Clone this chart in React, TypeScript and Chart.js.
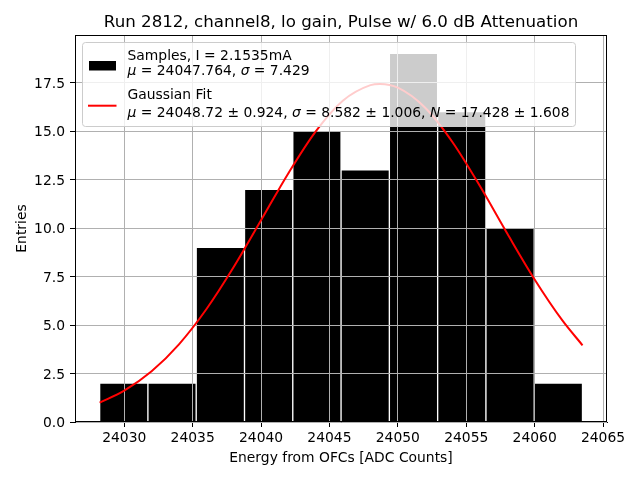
import React, { useEffect, useRef } from "react";
import { Chart, registerables } from "chart.js";

Chart.register(...registerables);

const TITLE = "Run 2812, channel8, lo gain, Pulse w/ 6.0 dB Attenuation";
const X_LABEL = "Energy from OFCs [ADC Counts]";
const Y_LABEL = "Entries";

// Histogram bins
const binEdges = [24028.2, 24031.73, 24035.26, 24038.79, 24042.32, 24045.85, 24049.38, 24052.91, 24056.44, 24059.97, 24063.5];
const counts = [2, 2, 9, 12, 15, 13, 19, 16, 10, 2];

// Gaussian fit curve samples
const fitX = [24028.2, 24030, 24032, 24034, 24036, 24038, 24040, 24042, 24044, 24046, 24048, 24048.7, 24050, 24052, 24054, 24056, 24058, 24060, 24062, 24063.5];
const fitY = [1.0, 1.615, 2.612, 4.003, 5.811, 7.988, 10.4, 12.826, 14.982, 16.574, 17.367, 17.428, 17.235, 16.2, 14.423, 12.162, 9.712, 7.347, 5.263, 3.955];

const xRange = [24026.4, 24065.29];
const yRange = [0, 19.95];
const xStep = 5;
const yStep = 2.5;

type Seg = [string, boolean];
const legendSamples: Seg[][] = [
  [["Samples, I = 2.1535mA", false]],
  [["μ", true], [" = 24047.764, ", false], ["σ", true], [" = 7.429", false]],
];
const legendFit: Seg[][] = [
  [["Gaussian Fit", false]],
  [["μ", true], [" = 24048.72 ± 0.924, ", false], ["σ", true], [" = 8.582 ± 1.006, ", false], ["N", true], [" = 17.428 ± 1.608", false]],
];

const FONT = '"DejaVu Sans"';
const FS = 13.89;

function segFont(it: boolean) {
  return `${it ? "italic " : ""}${FS}px ${FONT}`;
}

function lineWidth(ctx: CanvasRenderingContext2D, line: Seg[]) {
  let w = 0;
  for (const [t, it] of line) {
    ctx.font = segFont(it);
    w += ctx.measureText(t).width;
  }
  return w;
}

function drawLine(ctx: CanvasRenderingContext2D, line: Seg[], x: number, y: number) {
  let cx = x;
  for (const [t, it] of line) {
    ctx.font = segFont(it);
    ctx.fillText(t, cx, y);
    cx += ctx.measureText(t).width;
  }
}

const overlayPlugin = {
  id: "overlay",
  beforeDatasetDraw(chart: any, args: any) {
    if (args.meta.type === "line") {
      chart.scales.x.drawGrid(chart.chartArea);
      chart.scales.y.drawGrid(chart.chartArea);
    }
  },
  afterDatasetsDraw(chart: any) {
    const ctx: CanvasRenderingContext2D = chart.ctx;
    const a = chart.chartArea;
    ctx.save();
    ctx.strokeStyle = "#000";
    ctx.lineWidth = 1;
    ctx.strokeRect(Math.round(a.left) + 0.5, Math.round(a.top) + 0.5, Math.round(a.right - a.left) - 1, Math.round(a.bottom - a.top) - 1);
    ctx.restore();
  },
  afterDraw(chart: any) {
    const ctx: CanvasRenderingContext2D = chart.ctx;
    const a = chart.chartArea;
    ctx.save();
    ctx.fillStyle = "#000";
    // Y tick labels (positions from the library's y scale)
    const ys = chart.scales.y;
    ctx.font = `${FS}px ${FONT}`;
    ctx.textAlign = "right";
    ctx.textBaseline = "alphabetic";
    for (const t of ys.ticks) {
      const py = ys.getPixelForValue(t.value);
      ctx.fillText(Number(t.value).toFixed(1), a.left - 10, py + 5);
    }
    // Title
    ctx.font = `16.67px ${FONT}`;
    ctx.textAlign = "center";
    ctx.fillText(TITLE, (a.left + a.right) / 2, 27);
    // X label
    ctx.font = `${FS}px ${FONT}`;
    ctx.fillText(X_LABEL, (a.left + a.right) / 2, 462);
    // Y label
    ctx.save();
    ctx.translate(25.5, (a.top + a.bottom) / 2);
    ctx.rotate(-Math.PI / 2);
    ctx.fillText(Y_LABEL, 0, 0);
    ctx.restore();

    // Legend
    ctx.textAlign = "left";
    const lx = 82.5, ly = 42.5;
    const tx = 127.5;
    let maxW = 0;
    for (const l of [...legendSamples, ...legendFit]) maxW = Math.max(maxW, lineWidth(ctx, l));
    const w = Math.round(tx + maxW + 6 - lx);
    const h = 84;
    ctx.beginPath();
    (ctx as any).roundRect(lx, ly, w, h, 3);
    ctx.fillStyle = "rgba(255,255,255,0.8)";
    ctx.fill();
    ctx.strokeStyle = "#cccccc";
    ctx.lineWidth = 1;
    ctx.stroke();
    // handles
    ctx.fillStyle = "#000";
    ctx.fillRect(89, 61, 27, 9.5);
    ctx.strokeStyle = "#ff0000";
    ctx.lineWidth = 2;
    ctx.beginPath();
    ctx.moveTo(88, 105.7);
    ctx.lineTo(116.5, 105.7);
    ctx.stroke();
    // texts
    ctx.fillStyle = "#000";
    drawLine(ctx, legendSamples[0], tx, 60);
    drawLine(ctx, legendSamples[1], tx, 75);
    drawLine(ctx, legendFit[0], tx, 99);
    drawLine(ctx, legendFit[1], tx, 117);
    ctx.restore();
  },
};

export default function App() {
  const ref = useRef<HTMLCanvasElement>(null);
  useEffect(() => {
    if (!ref.current) return;
    const barData = counts.map((c, i) => ({ x: (binEdges[i] + binEdges[i + 1]) / 2, y: c }));
    const lineData = fitX.map((x, i) => ({ x, y: fitY[i] }));
    const tickFont = { family: FONT, size: FS };
    const chart = new Chart(ref.current, {
      type: "bar",
      data: {
        datasets: [
          {
            type: "bar",
            label: "Samples",
            data: barData as any,
            backgroundColor: "#000000",
            borderColor: "#ffffff",
            borderWidth: 1,
            barPercentage: 1,
            categoryPercentage: 1,
            order: 1,
          } as any,
          {
            type: "line",
            label: "Gaussian Fit",
            data: lineData as any,
            borderColor: "#ff0000",
            borderWidth: 2,
            pointRadius: 0,
            cubicInterpolationMode: "monotone",
            fill: false,
            order: 0,
          } as any,
        ],
      },
      options: {
        animation: false,
        responsive: false,
        devicePixelRatio: 1,
        layout: { padding: { top: 35, right: 33, left: 0, bottom: 0 } },
        plugins: {
          legend: { display: false },
          title: { display: false },
          tooltip: { enabled: false },
        },
        scales: {
          x: {
            type: "linear",
            min: xRange[0],
            max: xRange[1],
            offset: false,
            grid: { color: "#b0b0b0", lineWidth: 1, tickColor: "#000", tickLength: 5, offset: false },
            border: { display: true, color: "#000", width: 1 },
            ticks: {
              stepSize: xStep,
              includeBounds: false,
              autoSkip: false,
              maxRotation: 0,
              padding: 3,
              color: "#000",
              font: tickFont,
              callback: (v: any) => String(v),
            },
            afterFit: (s: any) => {
              s.height = 58;
            },
          },
          y: {
            type: "linear",
            min: yRange[0],
            max: yRange[1],
            grid: { color: "#b0b0b0", lineWidth: 1, tickColor: "#000", tickLength: 5 },
            border: { display: true, color: "#000", width: 1 },
            ticks: {
              stepSize: yStep,
              includeBounds: false,
              padding: 5,
              color: "rgba(0,0,0,0)",
              font: tickFont,
              callback: (v: any) => Number(v).toFixed(1),
            },
            afterFit: (s: any) => {
              s.width = 75;
            },
          },
        },
      } as any,
      plugins: [overlayPlugin],
    });
    return () => chart.destroy();
  }, []);
  return (
    <div style={{ position: "absolute", left: 0, top: 0, width: 640, height: 480, background: "#fff" }}>
      <canvas ref={ref} width={640} height={480} style={{ display: "block", width: 640, height: 480 }} />
    </div>
  );
}
